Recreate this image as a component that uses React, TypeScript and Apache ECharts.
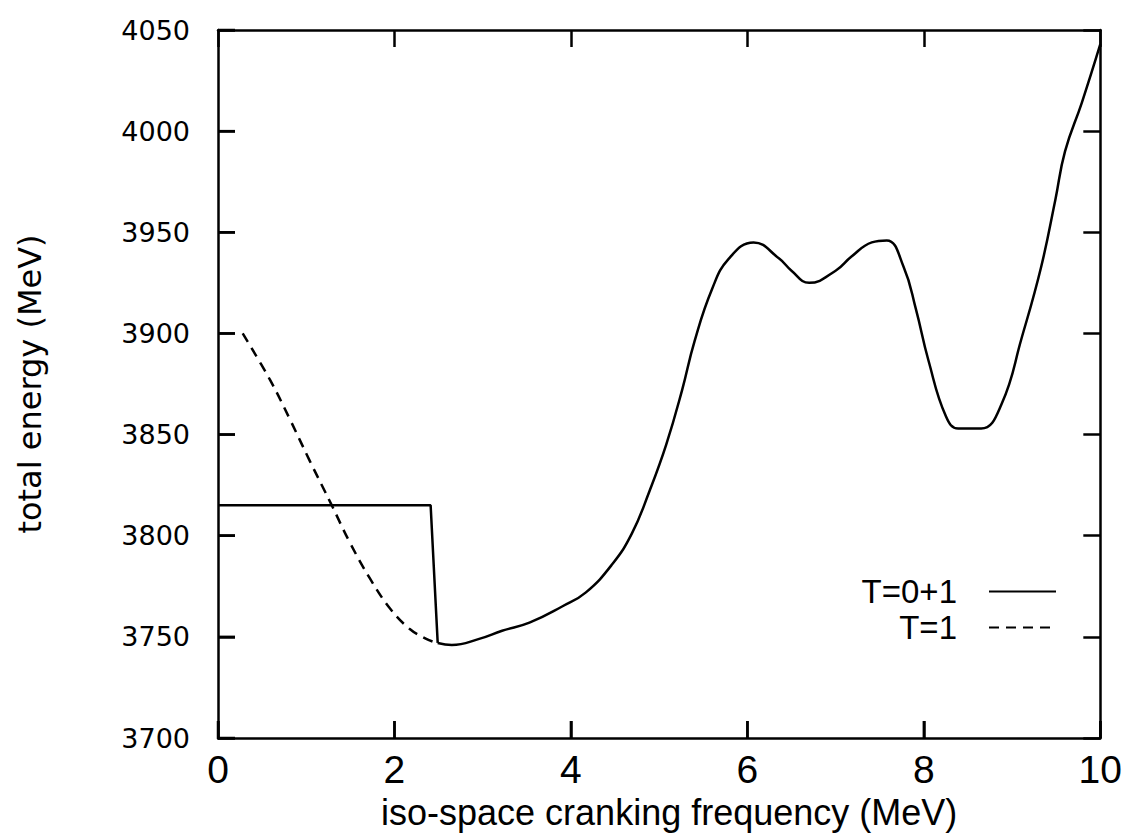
import React, { useEffect, useRef } from "react";
import * as echarts from "echarts";

const xTicks = [0, 2, 4, 6, 8, 10];
const yTicks = [3700, 3750, 3800, 3850, 3900, 3950, 4000, 4050];

// T=0+1 : flat part + drop
const t01Step: [number, number][] = [
  [0, 3815],
  [2.41, 3815],
  [2.49, 3747],
];
// T=0+1 : continuous curve
const t01Curve: [number, number][] = [
  [2.49, 3747], [2.65, 3746], [2.96, 3749], [3.22, 3753], [3.53, 3757],
  [3.9, 3765], [4.17, 3772], [4.47, 3786], [4.69, 3801], [4.89, 3822],
  [5.08, 3845], [5.26, 3872], [5.4, 3896], [5.6, 3922], [5.79, 3937],
  [6.07, 3945], [6.36, 3937], [6.5, 3931], [6.7, 3925], [7.0, 3931],
  [7.18, 3938], [7.41, 3945], [7.58, 3946], [7.77, 3933], [7.91, 3912],
  [8.05, 3887], [8.25, 3859], [8.39, 3853], [8.65, 3853], [8.88, 3865],
  [9.11, 3898], [9.33, 3933], [9.49, 3966], [9.6, 3990], [9.79, 4014],
  [10.0, 4043],
];
// T=1 dashed
const t1Curve: [number, number][] = [
  [0.28, 3900], [0.59, 3877], [0.81, 3858], [1.04, 3837], [1.29, 3815],
  [1.49, 3797], [1.72, 3779], [1.95, 3764], [2.17, 3754], [2.36, 3749],
  [2.48, 3747],
];

const legendNames = ["T=0+1", "T=1"];

const W = 1125;
const H = 840;
const TICK_LEN = 17;

const mkLine = () => ({ show: true, onZero: false, lineStyle: { color: "#000", width: 2.5 } });
const mkTick = () => ({ show: true, inside: true, length: TICK_LEN, lineStyle: { color: "#000", width: 2.5 } });

const legendBase = {
  right: 68,
  padding: 0,
  align: "right",
  itemWidth: 67,
  itemHeight: 14,
  itemStyle: { opacity: 0 },
  textStyle: {
    fontFamily: "Liberation Sans, Arial, sans-serif",
    fontSize: 33,
    color: "#000",
    padding: [0, 27, 0, 0],
  },
};

const xBase = {
  type: "value",
  min: xTicks[0],
  max: xTicks[xTicks.length - 1],
  interval: 2,
  splitLine: { show: false },
};
const yBase = {
  type: "value",
  min: yTicks[0],
  max: yTicks[yTicks.length - 1],
  interval: 50,
  splitLine: { show: false },
};

// tick marks on the left edge (pointing right) and bottom edge (pointing up)
const leftTickData = yTicks.map((v) => [xTicks[0], v]);
const bottomTickData = xTicks.map((v) => [v, yTicks[0]]);

const tickSeries = (name: string, data: number[][], dir: "right" | "up") => ({
  name,
  type: "custom",
  data,
  clip: false,
  silent: true,
  z: 5,
  renderItem: (_params: any, api: any) => {
    const p = api.coord([api.value(0), api.value(1)]);
    const x2 = dir === "right" ? p[0] + TICK_LEN : p[0];
    const y2 = dir === "up" ? p[1] - TICK_LEN : p[1];
    return {
      type: "line",
      shape: { x1: p[0], y1: p[1], x2, y2 },
      style: { stroke: "#000", lineWidth: 2.5 },
    };
  },
});

export default function App() {
  const ref = useRef<HTMLDivElement>(null);
  useEffect(() => {
    if (!ref.current) return;
    const chart = echarts.init(ref.current, null, { renderer: "svg" });
    chart.setOption({
      animation: false,
      backgroundColor: "#fff",
      grid: { left: 218, right: 24, top: 30, bottom: 102, containLabel: false },
      legend: [
        { ...legendBase, data: [legendNames[0]], top: 575 },
        { ...legendBase, data: [legendNames[1]], top: 611 },
      ],
      xAxis: [
        {
          ...xBase,
          position: "bottom",
          axisLine: mkLine(),
          axisTick: mkTick(),
          axisLabel: {
            margin: 12,
            color: "#000",
            fontFamily: "Liberation Sans, Arial, sans-serif",
            fontSize: 39,
          },
          name: "iso-space cranking frequency (MeV)",
          nameLocation: "middle",
          nameGap: 56,
          nameTextStyle: {
            color: "#000",
            fontFamily: "Liberation Sans, Arial, sans-serif",
            fontSize: 36,
            padding: [0, 0, 0, 20],
          },
        },
        {
          ...xBase,
          position: "top",
          axisLine: mkLine(),
          axisTick: mkTick(),
          axisLabel: { show: false },
        },
      ],
      yAxis: [
        {
          ...yBase,
          position: "left",
          axisLine: mkLine(),
          axisTick: mkTick(),
          axisLabel: {
            margin: 28,
            color: "#000",
            fontFamily: "DejaVu Sans, sans-serif",
            fontSize: 27,
            formatter: (v: number) => String(v),
          },
          name: "total energy (MeV)",
          nameLocation: "middle",
          nameGap: 172,
          nameRotate: 90,
          nameTextStyle: {
            color: "#000",
            fontFamily: "DejaVu Sans, sans-serif",
            fontSize: 32,
          },
        },
        {
          ...yBase,
          position: "right",
          axisLine: mkLine(),
          axisTick: mkTick(),
          axisLabel: { show: false },
        },
      ],
      series: [
        {
          name: legendNames[0],
          type: "line",
          data: t01Step,
          symbol: "none",
          lineStyle: { color: "#000", width: 2.5 },
          itemStyle: { color: "#000" },
        },
        {
          name: legendNames[0],
          type: "line",
          data: t01Curve,
          symbol: "none",
          smooth: 0.45,
          lineStyle: { color: "#000", width: 2.5 },
          itemStyle: { color: "#000" },
        },
        {
          name: legendNames[1],
          type: "line",
          data: t1Curve,
          symbol: "none",
          smooth: 0.4,
          lineStyle: { color: "#000", width: 2.5, type: [10, 7] },
          itemStyle: { color: "#000" },
        },
        tickSeries("left ticks", leftTickData, "right"),
        tickSeries("bottom ticks", bottomTickData, "up"),
      ],
    });
    return () => chart.dispose();
  }, []);
  return (
    <div
      ref={ref}
      style={{ position: "fixed", left: 0, top: 0, width: W, height: H, background: "#fff" }}
    />
  );
}
